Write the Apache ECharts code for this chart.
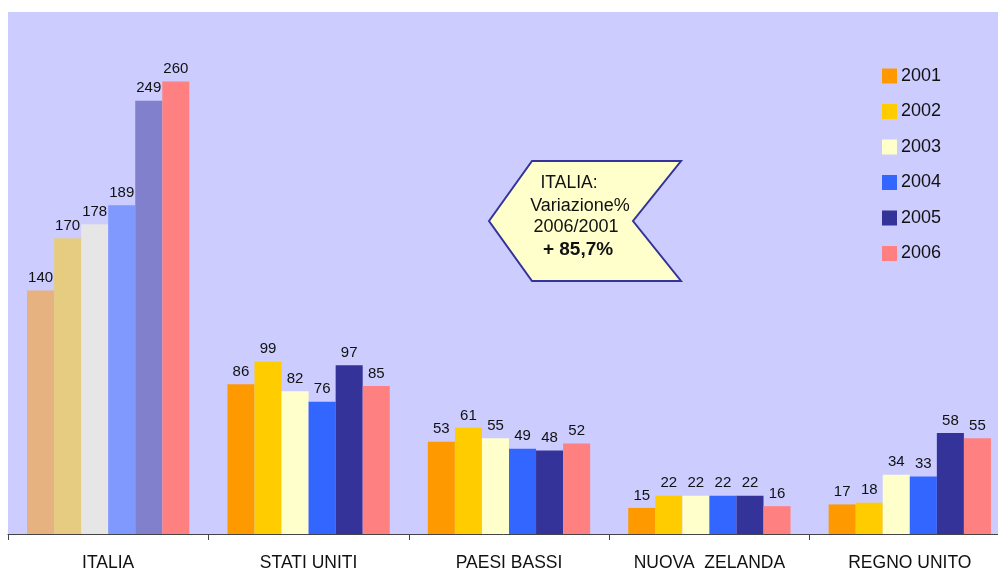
<!DOCTYPE html>
<html><head><meta charset="utf-8">
<script src="https://cdn.jsdelivr.net/npm/echarts@6/dist/echarts.min.js"></script>
<style>html,body{margin:0;padding:0;background:#fff}#c{width:998px;height:572px}</style>
</head><body><div id="c"></div>
<script>
var categories = ['ITALIA', 'STATI UNITI', 'PAESI BASSI', 'NUOVA  ZELANDA', 'REGNO UNITO'];
var years = ['2001', '2002', '2003', '2004', '2005', '2006'];
var v2001 = [140, 86, 53, 15, 17];
var v2002 = [170, 99, 61, 22, 18];
var v2003 = [178, 82, 55, 22, 34];
var v2004 = [189, 76, 49, 22, 33];
var v2005 = [249, 97, 48, 22, 58];
var v2006 = [260, 85, 52, 16, 55];
var colors = ['#FF9900', '#FFCC00', '#FFFFCC', '#3366FF', '#333399', '#FF8080'];
var fadedItalia = ['#E6B380', '#E6CC80', '#E6E6E6', '#8099FF', '#8080CC', null];
var calloutLines = ['ITALIA:', 'Variazione%', '2006/2001', '+ 85,7%'];

var allValues = [v2001, v2002, v2003, v2004, v2005, v2006];
var series = years.map(function (y, i) {
  return {
    name: y,
    type: 'bar',
    barGap: '0%',
    barCategoryGap: '19%',
    itemStyle: { color: colors[i] },
    label: { show: true, position: 'top', distance: 5, color: '#111', fontFamily: 'Liberation Sans', fontSize: 15 },
    data: allValues[i].map(function (v, j) {
      if (j === 0 && fadedItalia[i]) return { value: v, itemStyle: { color: fadedItalia[i] } };
      return v;
    })
  };
});

var chart = echarts.init(document.getElementById('c'));
chart.setOption({
  animation: false,
  backgroundColor: '#ffffff',
  grid: { left: 8, top: 12, width: 1002, height: 522, outerBoundsMode: 'none', containLabel: false, show: true, backgroundColor: '#CCCCFF', borderWidth: 0 },
  legend: {
    orient: 'vertical', left: 882, top: 67, padding: 0, itemWidth: 15, itemHeight: 15, itemGap: 17.5,
    textStyle: { fontFamily: 'Liberation Sans', fontSize: 18, lineHeight: 18, color: '#111', padding: [0, 0, 0, -1] },
    data: years, icon: 'rect'
  },
  xAxis: {
    type: 'category', data: categories,
    axisLine: { lineStyle: { color: '#444', width: 1 } },
    axisTick: { show: true, length: 6, lineStyle: { color: '#444' } },
    axisLabel: { fontFamily: 'Liberation Sans', fontSize: 17.5, color: '#111', margin: 20 }
  },
  yAxis: { type: 'value', min: 0, max: 300, show: false, splitLine: { show: false } },
  series: series,
  graphic: [
    {
      type: 'polygon',
      shape: { points: [[489, 221], [532, 161], [681, 161], [633, 221], [681, 281], [532, 281]] },
      style: { fill: '#FFFFCC', stroke: '#333399', lineWidth: 2 }
    },
    { type: 'text', style: { text: calloutLines[0], x: 569, y: 183, textAlign: 'center', textVerticalAlign: 'middle', font: '17.5px "Liberation Sans"', fill: '#111' } },
    { type: 'text', style: { text: calloutLines[1], x: 580, y: 206, textAlign: 'center', textVerticalAlign: 'middle', font: '18px "Liberation Sans"', fill: '#111' } },
    { type: 'text', style: { text: calloutLines[2], x: 576, y: 227, textAlign: 'center', textVerticalAlign: 'middle', font: '18px "Liberation Sans"', fill: '#111' } },
    { type: 'text', style: { text: calloutLines[3], x: 578, y: 250, textAlign: 'center', textVerticalAlign: 'middle', font: 'bold 19px "Liberation Sans"', fill: '#111' } }
  ]
});
</script></body></html>
